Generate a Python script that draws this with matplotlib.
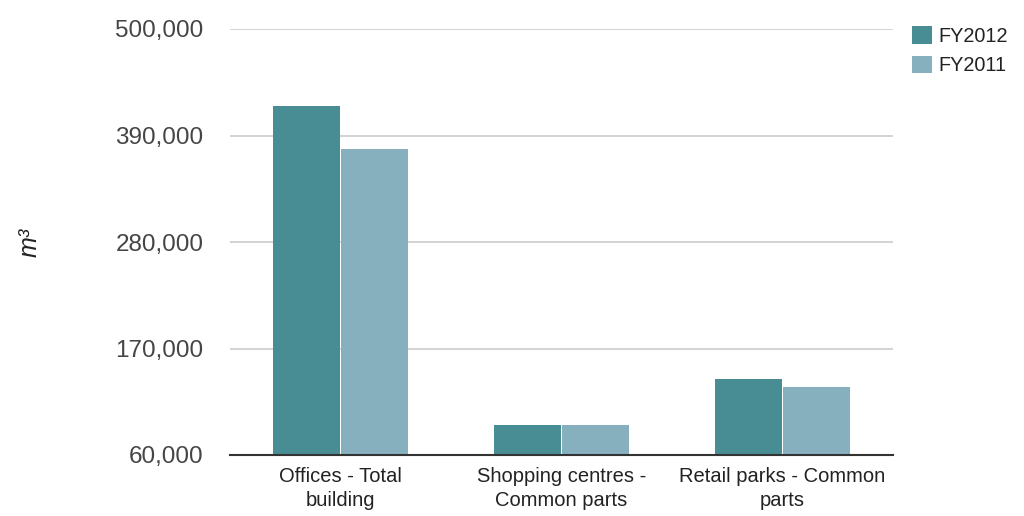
import matplotlib
matplotlib.use("Agg")
import matplotlib.pyplot as plt
import numpy as np
from matplotlib.patches import Patch

categories = ["Offices - Total\nbuilding", "Shopping centres -\nCommon parts", "Retail parks - Common\nparts"]
series_names = ["FY2012", "FY2011"]
fy2012 = [420500, 91000, 138500]
fy2011 = [376000, 91000, 130200]
yticks = [60000, 170000, 280000, 390000, 500000]

colors = ["#478d93", "#87b0bf"]

plt.rcParams["font.family"] = ["Liberation Sans", "DejaVu Sans"]

fig = plt.figure(figsize=(10.24, 5.16), dpi=100)
ax = fig.add_axes([230 / 1024, 1 - 455 / 516, 663 / 1024, 426 / 516])

x = np.arange(len(categories))
w = 0.303
gap = 0.0023
ax.bar(x - w / 2 - gap, fy2012, width=w, bottom=0, color=colors[0], zorder=3)
ax.bar(x + w / 2 + gap, fy2011, width=w, bottom=0, color=colors[1], zorder=3)

ax.set_xlim(-0.5, len(categories) - 0.5)
ax.set_ylim(yticks[0], yticks[-1])
ax.set_yticks(yticks)
ax.set_yticklabels([f"{v:,}" for v in yticks], fontsize=17.5, color="#454545")
ax.set_xticks(x)
ax.set_xticklabels(categories, fontsize=14.5, color="#222222", linespacing=1.33)
ax.tick_params(axis="both", length=0)
ax.tick_params(axis="y", pad=19)
ax.tick_params(axis="x", pad=9)

ax.grid(axis="y", color="#cccccc", linewidth=1.2, zorder=0)
for s in ["top", "right", "left"]:
    ax.spines[s].set_visible(False)
ax.spines["bottom"].set_color("#333333")
ax.spines["bottom"].set_linewidth(1.5)
ax.spines["bottom"].set_zorder(4)

fig.text(30 / 1024, 1 - 242 / 516, "m³", rotation=90, ha="center", va="center",
         fontsize=18, fontstyle="italic", color="#222222")

handles = [Patch(facecolor=c, edgecolor="none") for c in colors]
fig.legend(handles, series_names, loc="upper left", bbox_to_anchor=(912 / 1024, 1 - 26 / 516),
           frameon=False, fontsize=14.3, handlelength=1.0, handleheight=1.0,
           handletextpad=0.35, labelspacing=0.5, borderpad=0, borderaxespad=0,
           labelcolor="#222222")

fig.savefig("out.png", dpi=100)
